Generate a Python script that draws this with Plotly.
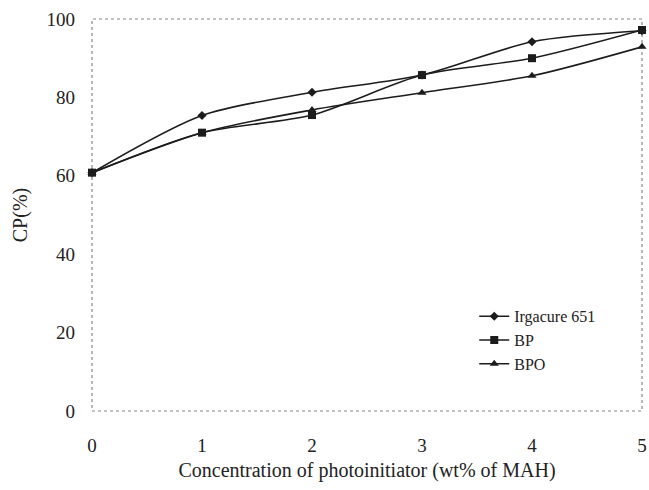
import plotly.graph_objects as go

concentration = [0, 1, 2, 3, 4, 5]
irgacure_651 = [60.8, 75.4, 81.3, 85.7, 94.2, 97.0]
bp = [60.8, 71.0, 75.5, 85.7, 90.0, 97.2]
bpo = [60.8, 71.0, 76.8, 81.2, 85.5, 92.9]

series = [
    ("Irgacure 651", irgacure_651, "diamond", 7),
    ("BP", bp, "square", 8),
    ("BPO", bpo, "triangle-up", 8),
]

fig = go.Figure()
for name, vals, sym, size in series:
    fig.add_trace(go.Scatter(
        x=concentration, y=vals, name=name, mode="lines+markers", cliponaxis=False,
        line=dict(color="#1c1c1c", width=1.6, shape="spline", smoothing=0.8),
        marker=dict(symbol=sym, size=size, color="#1c1c1c"),
    ))

font = "Liberation Serif"
fig.update_layout(
    width=649, height=490,
    margin=dict(l=92, r=7, t=19, b=79),
    paper_bgcolor="white", plot_bgcolor="white",
    font=dict(family=font, size=19, color="#222"),
    showlegend=True,
    legend=dict(x=0.695, y=0.285, xanchor="left", yanchor="top",
                font=dict(family=font, size=16, color="#222"),
                bgcolor="rgba(0,0,0,0)", tracegroupgap=0, itemwidth=30),
    xaxis=dict(range=[0, 5], tickvals=concentration, showgrid=False, zeroline=False,
               showline=False, ticks="", ticklabelstandoff=21, automargin=False,
               ticklabeloverflow="allow",
               title=dict(text="Concentration of photoinitiator (wt% of MAH)", standoff=7,
                          font=dict(family=font, size=20))),
    yaxis=dict(range=[0, 100], tickvals=[0, 20, 40, 60, 80, 100], showgrid=False,
               zeroline=False, showline=False, ticks="", ticklabelstandoff=16,
               automargin=False, ticklabeloverflow="allow",
               title=dict(text="CP(%)", standoff=13, font=dict(family=font, size=20))),
    shapes=[dict(type="rect", xref="paper", yref="paper", x0=0, y0=0, x1=1, y1=1,
                 line=dict(color="#888", width=1.2, dash="dot"), layer="below")],
)

fig.write_html("out.html", config={"displayModeBar": False},
               post_script="document.body.style.margin='0';")
